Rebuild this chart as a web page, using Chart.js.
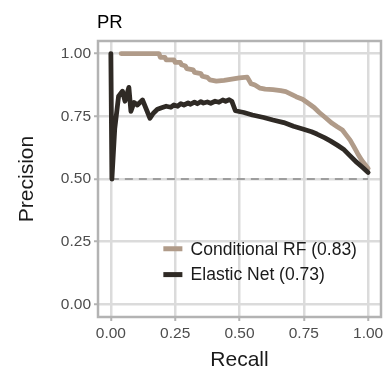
<!DOCTYPE html>
<html>
<head>
<meta charset="utf-8">
<script src="https://cdn.jsdelivr.net/npm/chart.js@4"></script>
<style>
  html, body { margin: 0; padding: 0; background: #ffffff; }
  #wrap { width: 387px; height: 372px; position: relative; }
</style>
</head>
<body>
<div id="wrap"><canvas id="pr"></canvas></div>
<script>
// Precision–recall curves for two models
const chartTitle = 'PR';
const xTitle = 'Recall';
const yTitle = 'Precision';

const tickValues = [0, 0.25, 0.5, 0.75, 1];
const tickLabels = ['0.00', '0.25', '0.50', '0.75', '1.00'];

const seriesNames = ['Conditional RF (0.83)', 'Elastic Net (0.73)'];
const seriesColors = ['#b09b89', '#2f2a25'];

const crfRecall = [0.04, 0.187, 0.192, 0.21, 0.215, 0.245, 0.25, 0.27, 0.275, 0.29, 0.295, 0.32, 0.325, 0.35, 0.355, 0.375, 0.385, 0.41, 0.44, 0.47, 0.5, 0.53, 0.545, 0.56, 0.58, 0.6, 0.63, 0.66, 0.68, 0.7, 0.72, 0.745, 0.77, 0.79, 0.81, 0.83, 0.86, 0.88, 0.9, 0.915, 0.93, 0.945, 0.96, 0.975, 0.99, 1.0];
const crfPrecision = [1.0, 1.0, 0.985, 0.985, 0.975, 0.975, 0.965, 0.965, 0.955, 0.95, 0.94, 0.935, 0.925, 0.92, 0.91, 0.905, 0.895, 0.89, 0.893, 0.898, 0.903, 0.906, 0.88, 0.875, 0.862, 0.858, 0.856, 0.852, 0.848, 0.838, 0.828, 0.818, 0.8, 0.785, 0.765, 0.748, 0.722, 0.708, 0.695, 0.675, 0.655, 0.628, 0.6, 0.575, 0.555, 0.542];

const enRecall = [0, 0.004, 0.015, 0.03, 0.045, 0.055, 0.07, 0.078, 0.09, 0.103, 0.123, 0.152, 0.165, 0.181, 0.2, 0.215, 0.233, 0.245, 0.26, 0.272, 0.284, 0.3, 0.31, 0.325, 0.336, 0.35, 0.36, 0.375, 0.388, 0.405, 0.42, 0.435, 0.446, 0.46, 0.47, 0.484, 0.517, 0.55, 0.594, 0.63, 0.672, 0.71, 0.749, 0.78, 0.801, 0.83, 0.853, 0.88, 0.904, 0.93, 0.956, 0.98, 1.0];
const enPrecision = [1.0, 0.5, 0.7, 0.83, 0.85, 0.81, 0.865, 0.77, 0.805, 0.795, 0.815, 0.742, 0.762, 0.778, 0.785, 0.79, 0.786, 0.795, 0.79, 0.8, 0.795, 0.803, 0.798, 0.806, 0.8, 0.808, 0.803, 0.807, 0.802, 0.81, 0.806, 0.815, 0.81, 0.816, 0.81, 0.772, 0.765, 0.755, 0.745, 0.735, 0.725, 0.71, 0.698, 0.688, 0.679, 0.665, 0.652, 0.635, 0.619, 0.592, 0.566, 0.545, 0.526];

// no-skill reference level
const baselineRecall = [0, 1];
const baselinePrecision = [0.5, 0.5];

const toPoints = (xs, ys) => xs.map((x, i) => ({ x: x, y: ys[i] }));

const FONT = '"Liberation Sans", Arial, Helvetica, sans-serif';

const panelPlugin = {
  id: 'panel',
  afterDatasetsDraw(chart) {
    const { ctx, chartArea: a } = chart;
    ctx.save();
    ctx.strokeStyle = '#b3b3b3';
    ctx.lineWidth = 2.5;
    ctx.strokeRect(a.left, a.top, a.right - a.left, a.bottom - a.top);
    ctx.restore();
  },
  afterDraw(chart) {
    const { ctx } = chart;
    const xs = chart.scales.x, ys = chart.scales.y;
    ctx.save();
    // title
    ctx.fillStyle = '#000000';
    ctx.font = '18.5px ' + FONT;
    ctx.textBaseline = 'alphabetic';
    ctx.textAlign = 'left';
    ctx.fillText(chartTitle, 97, 28);
    // legend inside the panel
    const keyX0 = xs.getPixelForValue(0.204);
    const keyX1 = xs.getPixelForValue(0.278);
    const textX = xs.getPixelForValue(0.31);
    const rowY = [ys.getPixelForValue(0.222), ys.getPixelForValue(0.119)];
    ctx.font = '17.5px ' + FONT;
    ctx.textBaseline = 'middle';
    seriesNames.forEach((name, i) => {
      ctx.strokeStyle = seriesColors[i];
      ctx.lineWidth = 5;
      ctx.lineCap = 'butt';
      ctx.beginPath();
      ctx.moveTo(keyX0, rowY[i]);
      ctx.lineTo(keyX1, rowY[i]);
      ctx.stroke();
      ctx.fillStyle = '#1a1a1a';
      ctx.fillText(name, textX, rowY[i] + 1);
    });
    ctx.restore();
  }
};

const axisCommon = {
  type: 'linear',
  min: -0.05,
  max: 1.05,
  afterBuildTicks(scale) {
    scale.ticks = tickValues.map(v => ({ value: v }));
  },
  grid: {
    color: '#dbdbdb',
    lineWidth: 2.5,
    tickColor: '#b3b3b3',
    tickWidth: 2,
    tickLength: 4,
    drawTicks: true
  },
  border: { display: false },
  ticks: {
    color: '#4d4d4d',
    font: { family: FONT, size: 15.5 },
    padding: 3,
    maxRotation: 0,
    autoSkip: false,
    callback(value) {
      const idx = tickValues.indexOf(value);
      return idx >= 0 ? tickLabels[idx] : '';
    }
  }
};

new Chart(document.getElementById('pr'), {
  type: 'scatter',
  data: {
    datasets: [
      {
        label: 'baseline',
        data: toPoints(baselineRecall, baselinePrecision),
        showLine: true,
        borderColor: '#9e9e9e',
        borderWidth: 2,
        borderDash: [8, 6],
        pointRadius: 0,
        order: 3
      },
      {
        label: seriesNames[0],
        data: toPoints(crfRecall, crfPrecision),
        showLine: true,
        borderColor: seriesColors[0],
        borderWidth: 4.8,
        borderJoinStyle: 'round',
        borderCapStyle: 'round',
        pointRadius: 0,
        order: 2
      },
      {
        label: seriesNames[1],
        data: toPoints(enRecall, enPrecision),
        showLine: true,
        borderColor: seriesColors[1],
        borderWidth: 4.8,
        borderJoinStyle: 'round',
        borderCapStyle: 'round',
        pointRadius: 0,
        order: 1
      }
    ]
  },
  options: {
    responsive: true,
    maintainAspectRatio: false,
    animation: false,
    devicePixelRatio: 1,
    layout: { padding: { top: 41, right: 6, left: 0, bottom: 0 } },
    plugins: {
      legend: { display: false },
      tooltip: { enabled: false }
    },
    scales: {
      x: Object.assign({}, axisCommon, {
        position: 'bottom',
        title: {
          display: true,
          text: xTitle,
          color: '#1a1a1a',
          font: { family: FONT, size: 21, lineHeight: 1 },
          padding: { top: 0, bottom: 1 }
        },
        afterFit(scale) { scale.height = 55; }
      }),
      y: Object.assign({}, axisCommon, {
        position: 'left',
        title: {
          display: true,
          text: yTitle,
          color: '#1a1a1a',
          font: { family: FONT, size: 21, lineHeight: 1 },
          padding: { top: 17, bottom: 0 }
        },
        afterFit(scale) { scale.width = 98; }
      })
    }
  },
  plugins: [panelPlugin]
});
</script>
</body>
</html>
